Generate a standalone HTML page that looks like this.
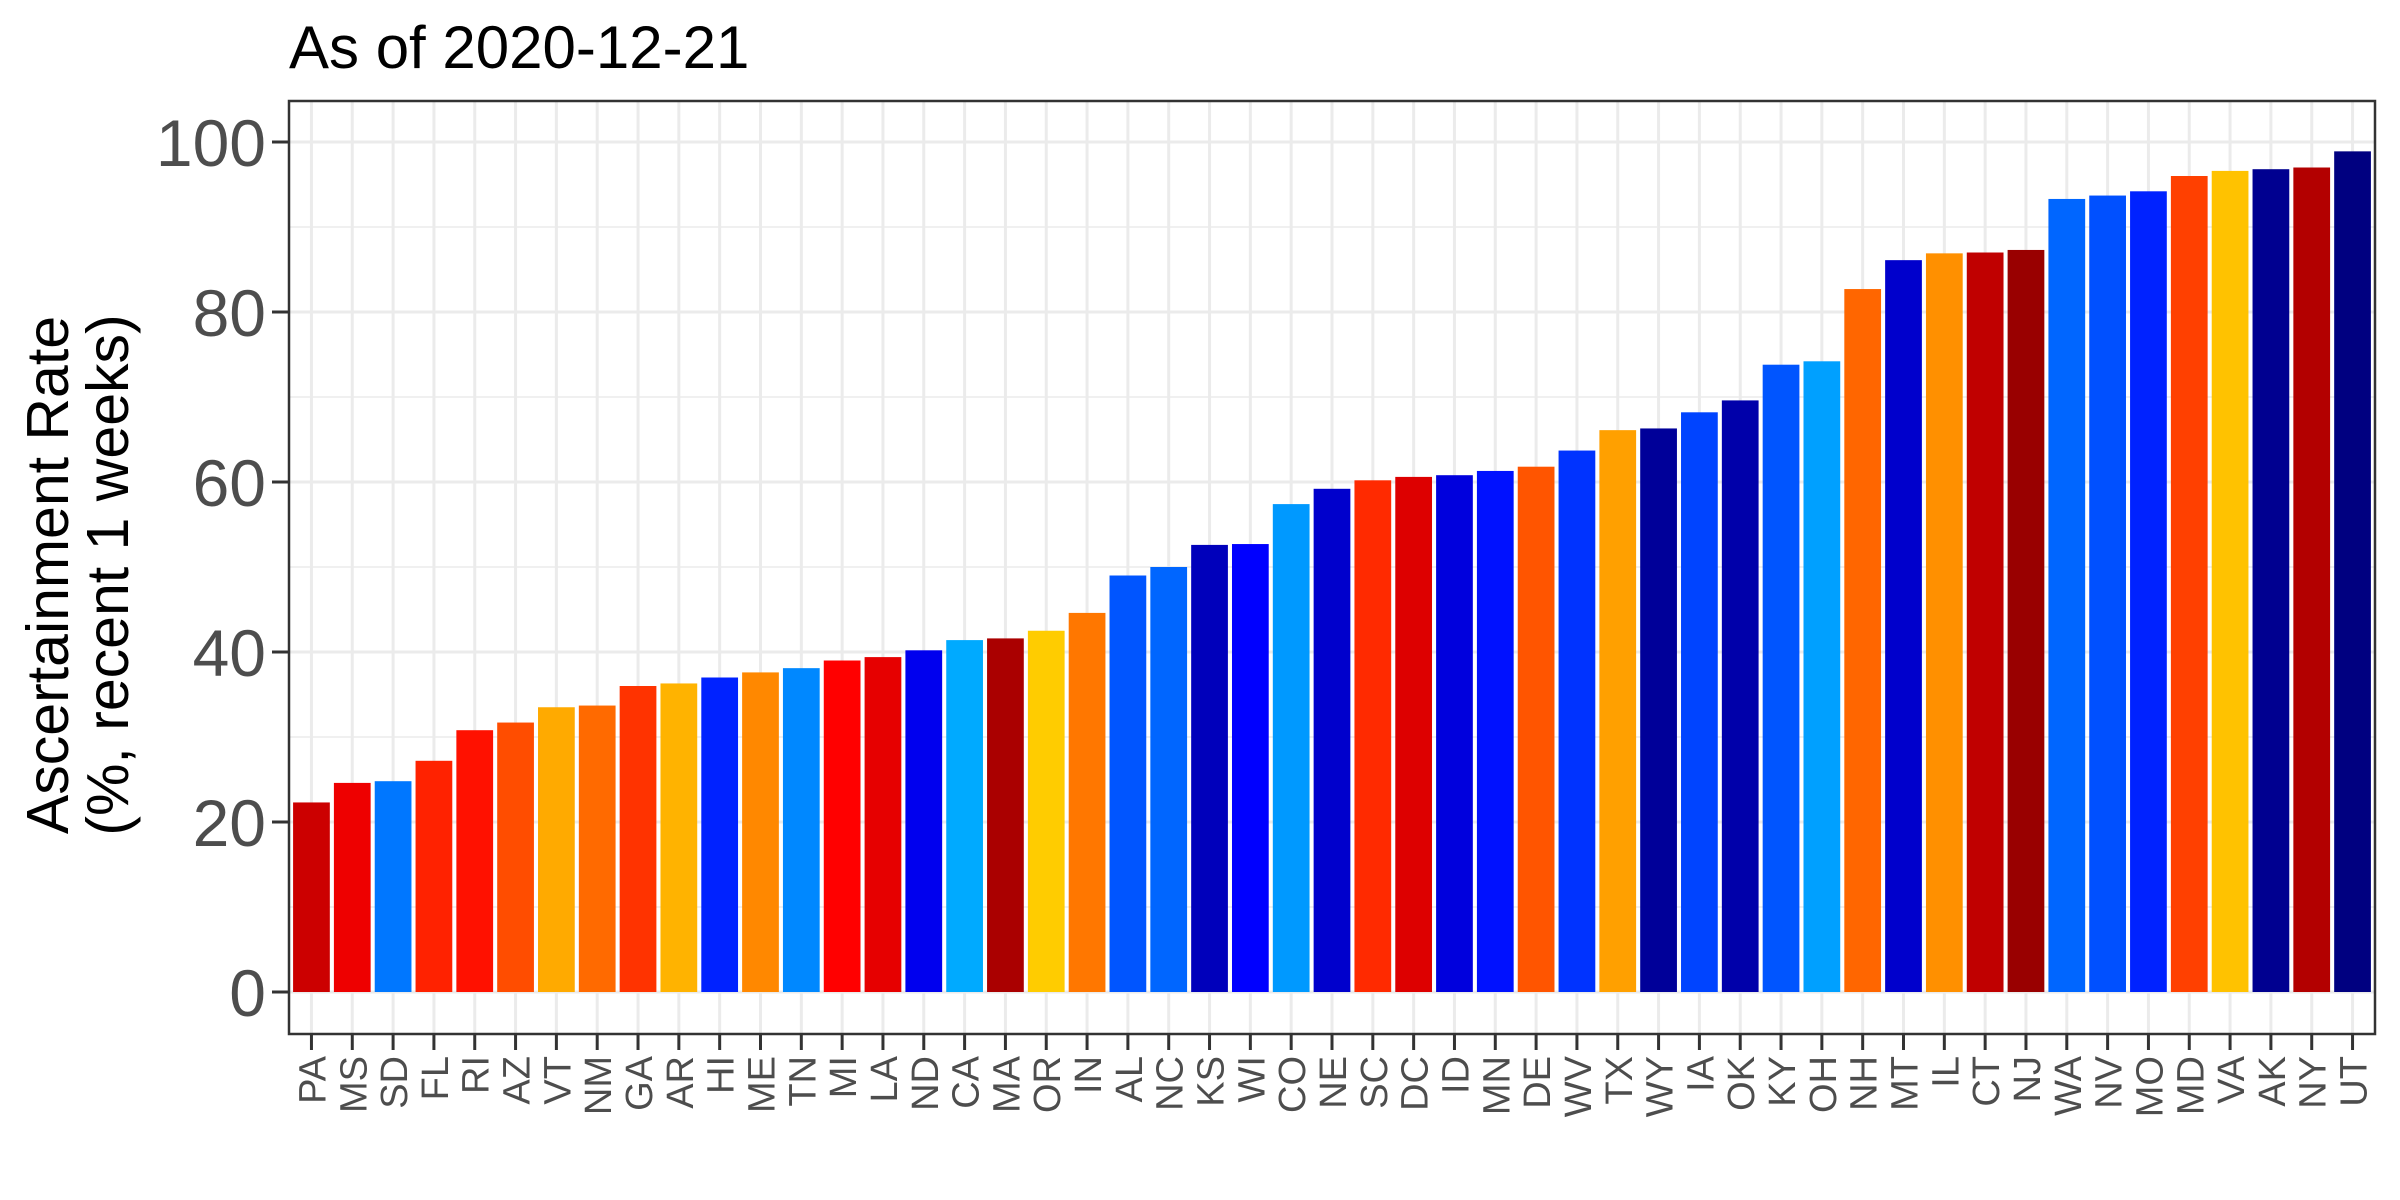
<!DOCTYPE html>
<html><head><meta charset="utf-8"><style>
html,body{margin:0;padding:0;background:#fff;}
svg{display:block;font-family:"Liberation Sans",sans-serif;}
</style></head><body>
<svg id="chart" width="2400" height="1200" viewBox="0 0 2400 1200">
<text x="289" y="68" font-size="60" fill="#000">As of 2020-12-21</text>
<g id="grid"></g>
<g id="bars"></g>
<rect x="289" y="101" width="2086" height="933" fill="none" stroke="#333" stroke-width="2.5"/>
<g id="yaxis"></g>
<g id="xaxis"></g>
<text transform="translate(68,575) rotate(-90)" text-anchor="middle" font-size="59" fill="#000"><tspan x="0" dy="0">Ascertainment Rate</tspan><tspan x="0" dy="60">(%, recent 1 weeks)</tspan></text>
</svg>
<script>
const states = ["PA","MS","SD","FL","RI","AZ","VT","NM","GA","AR","HI","ME","TN","MI","LA","ND","CA","MA","OR","IN","AL","NC","KS","WI","CO","NE","SC","DC","ID","MN","DE","WV","TX","WY","IA","OK","KY","OH","NH","MT","IL","CT","NJ","WA","NV","MO","MD","VA","AK","NY","UT"];
const rates = [22.3,24.6,24.8,27.2,30.8,31.7,33.5,33.7,36.0,36.3,37.0,37.6,38.1,39.0,39.4,40.2,41.4,41.6,42.5,44.6,49.0,50.0,52.6,52.7,57.4,59.2,60.2,60.6,60.8,61.3,61.8,63.7,66.1,66.3,68.2,69.6,73.8,74.2,82.7,86.1,86.9,87.0,87.3,93.3,93.7,94.2,96.0,96.6,96.8,97.0,98.9];
const colors = ["#cc0000","#ee0000","#0077ff","#ff2200","#ff1100","#ff4d00","#ffaa00","#ff6a00","#ff3300","#ffb300","#0022ff","#ff8800","#0088ff","#ff0000","#e60000","#0000ee","#00aaff","#aa0000","#ffcc00","#ff7700","#0055ff","#0066ff","#0000bb","#0000ff","#0099ff","#0000cc","#ff2a00","#dd0000","#0000dd","#0011ff","#ff5500","#0033ff","#ffa000","#000099","#0044ff","#0000aa","#0055ff","#00a0ff","#ff6600","#0000cc","#ff9000","#c00000","#990000","#0066ff","#0050ff","#0022ff","#ff4000","#ffc200","#000090","#b30000","#000080"];
const yTicks = [0,20,40,60,80,100];
const yMinor = [10,30,50,70,90];

const NS="http://www.w3.org/2000/svg";
const L=289,R=2375,T=101,B=1034;
const y0=992, pxPerUnit=8.5;
function yScale(v){return y0 - v*pxPerUnit;}
const band=(R-L)/(states.length+0.1);
function xScale(i){return L + band*(0.55+i);}
function mk(tag,attrs,parent){const e=document.createElementNS(NS,tag);for(const k in attrs)e.setAttribute(k,attrs[k]);parent.appendChild(e);return e;}
const grid=document.getElementById('grid'),bars=document.getElementById('bars'),ya=document.getElementById('yaxis'),xa=document.getElementById('xaxis');
yMinor.forEach(v=>{const l=mk('line',{x1:L,x2:R,y1:yScale(v),y2:yScale(v),stroke:'#ebebeb','stroke-width':1.5},grid);

});
yTicks.forEach(v=>{const l=mk('line',{x1:L,x2:R,y1:yScale(v),y2:yScale(v),stroke:'#ebebeb','stroke-width':3},grid);


const t=mk('line',{x1:272,x2:L,y1:yScale(v),y2:yScale(v),stroke:'#333','stroke-width':3},ya);


const tx=mk('text',{x:266,y:yScale(v)+24,'text-anchor':'end','font-size':66,fill:'#4d4d4d'},ya);
tx.textContent=v;

});
states.forEach((s,i)=>{const cx=xScale(i);
const g=mk('line',{x1:cx,x2:cx,y1:T,y2:B,stroke:'#ebebeb','stroke-width':3},grid);


const w=band*0.9;
const r=mk('rect',{x:cx-w/2,y:yScale(rates[i]),width:w,height:y0-yScale(rates[i]),fill:colors[i]},bars);


const t=mk('line',{x1:cx,x2:cx,y1:B,y2:B+16,stroke:'#333','stroke-width':3},xa);


const tx=mk('text',{transform:`translate(${cx+14},${B+22}) rotate(-90)`,'text-anchor':'end','font-size':38,fill:'#4d4d4d'},xa);
tx.textContent=s;

});
</script>
</body></html>
